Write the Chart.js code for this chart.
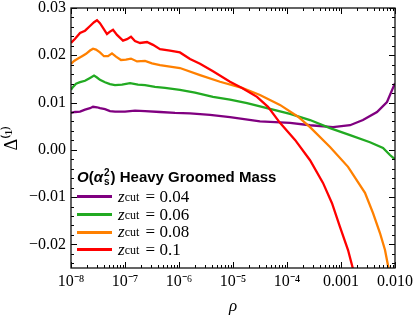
<!DOCTYPE html>
<html><head><meta charset="utf-8">
<script src="https://cdn.jsdelivr.net/npm/chart.js@4.4.0/dist/chart.umd.min.js"></script>
<style>
html,body{margin:0;padding:0;background:#fff;}
#wrap{position:relative;width:414px;height:315px;overflow:hidden;}
canvas{display:block;}
#legend{position:absolute;left:77px;top:166px;color:#000;}
#legend .ttl{font-family:"Liberation Sans",Arial,sans-serif;font-weight:bold;font-size:15px;line-height:22px;white-space:nowrap;display:flex;align-items:center;}
#legend .ttl i{font-style:italic;}
.stack{display:inline-flex;flex-direction:column;font-size:10px;line-height:9px;margin:0 1px;align-items:flex-start;}
.row{display:flex;align-items:center;height:17.7px;font-family:"Liberation Serif",serif;font-size:17px;white-space:nowrap;}
.sw{width:35px;height:3px;margin-right:6px;}
.row sub{font-size:12px;vertical-align:-3px;line-height:0;margin-right:2px;}
</style></head>
<body><div id="wrap"><canvas id="c" width="414" height="315"></canvas><div id="legend"></div></div>
<script>
// ---- data ----
const seriesNames = ['0.04', '0.06', '0.08', '0.1'];
const seriesColors = ['#800080', '#22aa22', '#ff8000', '#ff0000'];

const rho004 = [1.00e-8,1.19e-8,1.47e-8,1.82e-8,2.25e-8,2.56e-8,3.03e-8,3.44e-8,4.26e-8,5.27e-8,6.53e-8,1.00e-7,1.53e-7,2.35e-7,4.45e-7,8.43e-7,1.60e-6,3.75e-6,8.80e-6,3.16e-5,1.14e-4,2.67e-4,7.11e-4,1.47e-3,2.55e-3,4.64e-3,7.11e-3,1.00e-2];
const delta004 = [0.0078,0.0080,0.0081,0.0085,0.0088,0.0091,0.0090,0.0088,0.0086,0.0082,0.0081,0.0081,0.0083,0.0082,0.0080,0.0078,0.0077,0.0074,0.0069,0.0060,0.0057,0.0052,0.0048,0.0052,0.0063,0.0080,0.0101,0.0141];

const rho006 = [1.00e-8,1.09e-8,1.24e-8,1.47e-8,1.82e-8,2.25e-8,2.67e-8,3.03e-8,3.44e-8,4.26e-8,5.27e-8,6.53e-8,8.80e-8,1.24e-7,1.74e-7,2.35e-7,3.59e-7,5.51e-7,1.04e-6,1.98e-6,4.26e-6,8.80e-6,1.82e-5,4.26e-5,1.14e-4,2.67e-4,6.26e-4,1.47e-3,3.44e-3,6.00e-3,8.07e-3,1.00e-2];
const delta006 = [0.0127,0.0133,0.0140,0.0143,0.0146,0.0152,0.0157,0.0153,0.0148,0.0143,0.0139,0.0137,0.0138,0.0141,0.0138,0.0137,0.0133,0.0131,0.0127,0.0121,0.0112,0.0106,0.0099,0.0088,0.0076,0.0063,0.0046,0.0031,0.0016,0.0004,-0.0011,-0.0020];

const rho008 = [1.00e-8,1.14e-8,1.35e-8,1.60e-8,1.90e-8,2.25e-8,2.56e-8,2.90e-8,3.44e-8,4.08e-8,4.84e-8,5.74e-8,6.81e-8,8.43e-8,1.04e-7,1.29e-7,1.67e-7,2.35e-7,3.16e-7,4.45e-7,6.81e-7,1.04e-6,2.45e-6,5.74e-6,1.47e-5,3.16e-5,7.41e-5,1.60e-4,2.67e-4,6.26e-4,1.35e-3,2.78e-3,3.92e-3,5.27e-3,6.53e-3,7.41e-3,8.07e-3];
const delta008 = [0.0182,0.0188,0.0193,0.0198,0.0203,0.0210,0.0214,0.0212,0.0206,0.0198,0.0198,0.0204,0.0197,0.0190,0.0191,0.0193,0.0187,0.0188,0.0183,0.0179,0.0176,0.0173,0.0158,0.0144,0.0131,0.0116,0.0095,0.0070,0.0048,0.0006,-0.0036,-0.0091,-0.0134,-0.0176,-0.0212,-0.0244,-0.0265];

const rho01 = [1.00e-8,1.19e-8,1.47e-8,1.82e-8,2.25e-8,2.67e-8,3.03e-8,3.44e-8,4.08e-8,4.64e-8,5.27e-8,6.00e-8,7.11e-8,9.18e-8,1.09e-7,1.29e-7,1.53e-7,1.90e-7,2.55e-7,3.30e-7,4.45e-7,6.81e-7,1.04e-6,1.60e-6,2.45e-6,4.26e-6,8.80e-6,1.47e-5,2.78e-5,4.45e-5,7.41e-5,1.41e-4,2.67e-4,4.64e-4,6.81e-4,9.57e-4,1.35e-3,1.74e-3];
const delta01 = [0.0226,0.0235,0.0247,0.0252,0.0262,0.0270,0.0274,0.0268,0.0255,0.0245,0.0250,0.0254,0.0243,0.0231,0.0234,0.0239,0.0230,0.0226,0.0228,0.0222,0.0213,0.0210,0.0206,0.0192,0.0182,0.0166,0.0144,0.0131,0.0112,0.0091,0.0057,0.0021,-0.0022,-0.0070,-0.0113,-0.0163,-0.0212,-0.0260];

const rhoSeries = [rho004, rho006, rho008, rho01];
const deltaSeries = [delta004, delta006, delta008, delta01];

const xTickValues = [1e-8, 1e-7, 1e-6, 1e-5, 1e-4, 1e-3, 1e-2];
const xTickLabels = ['10\u207B\u2078', '10\u207B\u2077', '10\u207B\u2076', '10\u207B\u2075', '10\u207B\u2074', '0.001', '0.010'];
const yTickValues = [-0.02, -0.01, 0, 0.01, 0.02, 0.03];
const yTickLabels = ['\u22120.02', '\u22120.01', '0.00', '0.01', '0.02', '0.03'];

// ---- chart ----
const datasets = seriesNames.map((n, i) => ({
  label: n,
  data: rhoSeries[i].map((r, j) => ({x: r, y: deltaSeries[i][j]})),
  borderColor: seriesColors[i],
  backgroundColor: seriesColors[i],
  showLine: true,
  borderWidth: 2.3,
  pointRadius: 0,
  tension: 0,
  order: seriesNames.length - i
}));

const frameTicks = {
  id: 'frameTicks',
  afterDatasetsDraw(chart) {
    const {ctx, chartArea: {left, right, top, bottom}, scales: {x, y}} = chart;
    ctx.save();
    ctx.strokeStyle = '#000';
    ctx.lineWidth = 1;
    ctx.beginPath();
    for (let e = -8; e <= -2; e++) {
      for (let k = 1; k <= 9; k++) {
        const v = k * Math.pow(10, e);
        if (v > x.max * 1.0001) break;
        const px = Math.round(x.getPixelForValue(v)) + 0.5;
        const len = k === 1 ? 6 : 3;
        ctx.moveTo(px, bottom); ctx.lineTo(px, bottom - len);
        ctx.moveTo(px, top); ctx.lineTo(px, top + len);
      }
    }
    for (let i = Math.ceil(y.min / 0.002 - 1e-6); i * 0.002 <= y.max + 1e-9; i++) {
      const v = i * 0.002;
      const py = Math.round(y.getPixelForValue(v)) + 0.5;
      const len = (i % 5 === 0) ? 6 : 3;
      ctx.moveTo(left, py); ctx.lineTo(left + len, py);
      ctx.moveTo(right, py); ctx.lineTo(right - len, py);
    }
    ctx.stroke();
    ctx.lineWidth = 1.3;
    ctx.strokeStyle = '#111';
    ctx.strokeRect(left, top, right - left, bottom - top);
    ctx.restore();
  }
};

const htmlLegend = {
  id: 'htmlLegend',
  afterUpdate(chart) {
    const box = document.getElementById('legend');
    let html = '<div class="ttl"><i>O</i>(<i>\u03B1</i><span class="stack"><span>2</span><span>s</span></span>)&nbsp;Heavy Groomed Mass</div>';
    chart.data.datasets.forEach(ds => {
      html += '<div class="row"><span class="sw" style="background:' + ds.borderColor + '"></span><i>z</i><sub>cut</sub>&nbsp;= ' + ds.label + '</div>';
    });
    box.innerHTML = html;
  }
};

const serif = '"Liberation Serif", "Times New Roman", serif';

new Chart(document.getElementById('c'), {
  type: 'scatter',
  data: {datasets},
  options: {
    responsive: false,
    animation: false,
    devicePixelRatio: 1,
    layout: {padding: {left: 0, right: 19, top: 8, bottom: 0}},
    plugins: {legend: {display: false}, tooltip: {enabled: false}},
    scales: {
      x: {
        type: 'logarithmic',
        min: 1e-8, max: 1e-2,
        grid: {display: false, drawTicks: false},
        border: {display: false},
        afterBuildTicks: s => { s.ticks = xTickValues.map(v => ({value: v})); },
        ticks: {
          autoSkip: false, maxRotation: 0, padding: 4, color: '#000',
          font: {family: serif, size: 16},
          callback: (v, i) => xTickLabels[i]
        },
        title: {display: true, text: '\u03C1', color: '#000', font: {family: serif, size: 17, style: 'italic', lineHeight: 1}, padding: {top: 0, bottom: 0}},
        afterFit: s => { s.height = 47; s.paddingLeft = 0; s.paddingRight = 0; }
      },
      y: {
        min: -0.025, max: 0.03,
        grid: {display: false, drawTicks: false},
        border: {display: false},
        afterBuildTicks: s => { s.ticks = yTickValues.map(v => ({value: v})); },
        ticks: {
          autoSkip: false, padding: 5, color: '#000',
          font: {family: serif, size: 16},
          callback: (v, i) => yTickLabels[i]
        },
        title: {display: true, text: '\u0394\u207D\u00B9\u207E', color: '#000', font: {family: serif, size: 18, lineHeight: 1}, padding: {top: 3, bottom: 0}},
        afterFit: s => { s.width = 71; s.paddingTop = 0; s.paddingBottom = 0; }
      }
    }
  },
  plugins: [frameTicks, htmlLegend]
});
</script>
</body></html>
